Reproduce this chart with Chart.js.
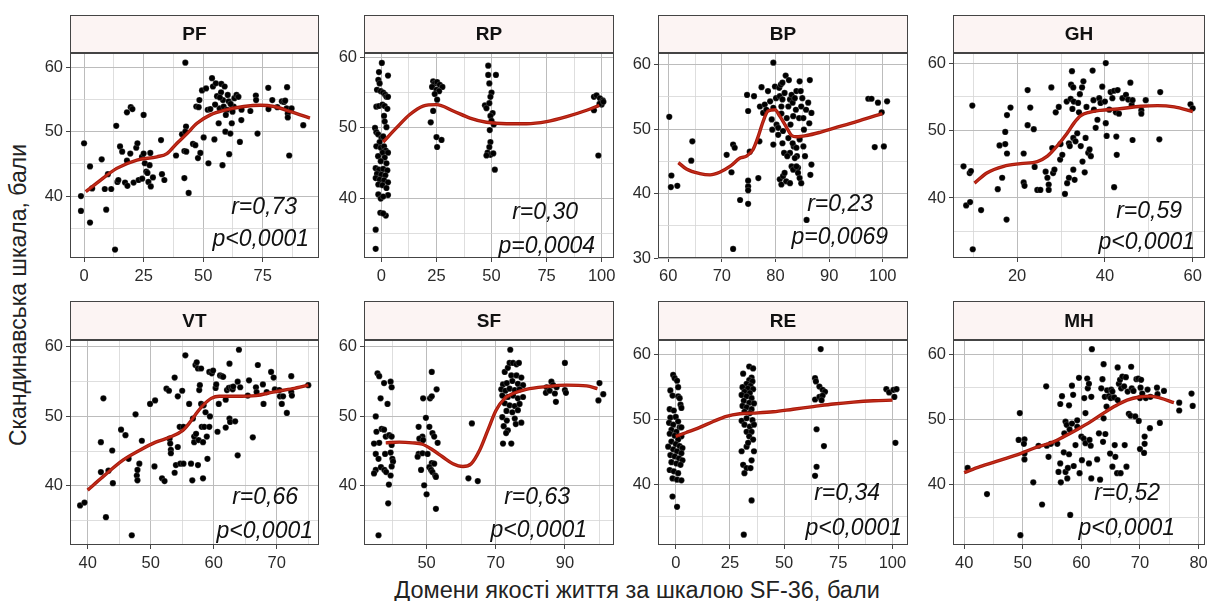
<!DOCTYPE html>
<html>
<head>
<meta charset="utf-8">
<script src="https://cdn.jsdelivr.net/npm/chart.js@4"></script>
<style>
body { margin: 0; background: #fff; width: 1208px; height: 601px; position: relative; overflow: hidden; font-family: 'Liberation Sans', Arial, sans-serif; }
canvas { position: absolute; }
#ytitle { position: absolute; left: 18px; top: 295px; transform: translate(-50%, -50%) rotate(-90deg); font-size: 23px; white-space: nowrap; color: #222; }
#xtitle { position: absolute; left: 637px; top: 590px; transform: translate(-50%, -50%); font-size: 23.5px; white-space: nowrap; color: #222; }
</style>
</head>
<body>
<div id="ytitle">Скандинавська шкала, бали</div>
<div id="xtitle">Домени якості життя за шкалою SF-36, бали</div>
<script>
// panels, in facet order
const panelNames = ['PF', 'RP', 'BP', 'GH', 'VT', 'SF', 'RE', 'MH'];
const rLabels = ['r=0,73', 'r=0,30', 'r=0,23', 'r=0,59', 'r=0,66', 'r=0,63', 'r=0,34', 'r=0,52'];
const pLabels = ['p<0,0001', 'p=0,0004', 'p=0,0069', 'p<0,0001', 'p<0,0001', 'p<0,0001', 'p<0,0001', 'p<0,0001'];

// major tick labels per panel
const xTicks = [[0, 25, 50, 75], [0, 25, 50, 75, 100], [60, 70, 80, 90, 100], [20, 40, 60],
                [40, 50, 60, 70], [50, 70, 90], [0, 25, 50, 75, 100], [40, 50, 60, 70, 80]];
const yTicks = [[40, 50, 60], [40, 50, 60], [30, 40, 50, 60], [40, 50, 60],
                [40, 50, 60], [40, 50, 60], [40, 50, 60], [40, 50, 60]];

// axis ranges [min, max]
const xRanges = [[-5.9, 98.6], [-7.9, 105.6], [58.1, 104.7], [5.4, 62.8], [37.2, 76.7], [31.9, 104.2], [-8.2, 107.2], [38.1, 81.1]];
const yRanges = [[30.4, 62.2], [31.6, 60.6], [30, 61.8], [31.1, 61.5], [31.5, 61.0], [31.5, 61.0], [30.6, 62.3], [30.8, 62.2]];

const pfPoints = [[-1.3,40.0],[-1.3,37.7],[0,48.2],[2.5,44.6],[2.5,35.9],[3.4,41.2],[7.4,45.7],[8.7,41.1],[9.3,37.9],[10,43.4],[11.4,41.1],[13.5,50.9],[13,31.7],[14,42.2],[14.4,42.5],[15.1,47.7],[16,46.9],[17.2,42.1],[18,53.0],[18,45.5],[18.2,41.6],[19.6,53.8],[20.3,53.5],[19.4,46.6],[20.8,42.1],[21.9,47.5],[22.4,48.2],[22.9,42.5],[24.3,46.1],[24.4,42.7],[25,52.6],[25,46.6],[25.5,45.1],[26.1,43.8],[26.6,43.6],[27,42.2],[27.5,44.8],[27.8,46.7],[28,41.5],[28.9,42.9],[32.3,48.7],[32.7,43.4],[33.7,42.5],[38.6,46.3],[41.1,49.6],[42.5,60.7],[42.1,47.0],[42.8,50.8],[42.5,50.0],[42.1,42.8],[42.9,46.9],[43.9,40.5],[45.7,48.1],[46.7,47.9],[47.1,53.9],[48.1,53.8],[47.8,45.9],[48.4,54.9],[48.8,46.7],[49.5,56.4],[50.2,49.1],[51.2,56.7],[51.9,53.4],[52.2,45.1],[53,53.5],[53.7,58.3],[54.1,57.0],[54.7,48.8],[55.3,57.5],[55.8,55.5],[56.5,51.3],[56.9,53.6],[57.5,56.1],[57.6,57.4],[58.1,44.8],[58.3,54.9],[58.6,53.9],[59,57.0],[59.3,50.0],[60,53.4],[60.3,55.7],[60.7,54.7],[60.9,46.5],[61.4,49.7],[62,51.3],[62.3,53.1],[62.8,53.9],[63.1,55.2],[64,55.7],[64.8,55.4],[65.4,48.4],[66,51.8],[66.1,53.4],[69.8,53.2],[72.1,55.6],[72.2,54.9],[72.8,49.7],[77.3,56.8],[77.4,53.5],[79,54.9],[81.1,53.8],[83,54.7],[83.9,54.6],[84.4,54.8],[85,53.6],[85.2,56.9],[85.5,52.8],[85.5,52.2],[86.1,46.3],[87.1,53.6],[92,51.0],[55,54.2],[57,55.3],[61.5,54.3],[59.5,52.6]];
const pfSmooth = [[0.7,40.7],[5.3,42],[13.7,44.3],[22.2,45.6],[30.6,46.1],[34.8,46.6],[39,48.2],[43.2,49.7],[47.4,51.3],[53,52.6],[58.6,53.3],[67,53.9],[74,54.1],[79.7,53.9],[86.7,53.1],[94.8,52.1]];

const rpPoints = [[-2.6,32.9],[-2.6,35.6],[0.2,59.2],[-1.1,57.9],[-1.4,56.8],[-0.8,56.3],[3,57.4],[-2,55.4],[-0.3,55.2],[0.8,55.0],[1.7,54.7],[2.3,54.4],[3,54.4],[-2.3,53.0],[-1.1,53.1],[0.5,53.3],[1.5,53.1],[2.7,52.7],[1.2,51.7],[1.5,50.9],[2.3,50.1],[-2.9,50.0],[-2.3,49.4],[-1.5,49.1],[0,48.6],[0.8,48.8],[-0.8,48.0],[-2.3,47.4],[-0.3,47.2],[1.2,47.4],[2,46.8],[0.5,46.5],[3,46.5],[-1.5,46.0],[1.5,45.8],[-0.3,45.3],[2.3,45.0],[-2.6,44.3],[-1.1,44.1],[0.8,44.2],[2.7,44.0],[-2,43.5],[0,43.4],[1.8,43.3],[-2.6,42.9],[-0.8,42.7],[1.2,42.6],[3,42.3],[-1.4,42.0],[0.5,41.9],[2.3,41.5],[3,40.5],[-1.4,40.6],[-0.3,40.0],[0.8,40.3],[-0.5,38.0],[2,37.6],[0.8,37.9],[23.5,56.6],[24.2,56.3],[25.3,56.5],[26.5,56.1],[27.7,55.8],[23,55.8],[25,55.4],[26.2,55.2],[24.2,54.8],[25.3,54.0],[23.5,52.4],[22.4,50.8],[25,48.7],[27.3,48.3],[25.3,47.3],[48.5,58.8],[48.5,57.5],[52,57.5],[49,56.3],[50,55.0],[49.5,54.4],[47,53.2],[47.7,52.8],[49,53.5],[50.5,52.1],[49.5,51.7],[51,50.5],[50,51.0],[49.2,49.7],[49.5,48.0],[49,47.3],[48.2,46.5],[49.5,46.2],[50.8,46.4],[51.5,44.1],[47.7,46.1],[96.5,54.4],[97.7,54.6],[99.2,54.2],[100.5,53.9],[100,53.3],[99,53.4],[96.5,52.5],[98.5,46.1],[100.8,53.7]];
const rpSmooth = [[0.8,48],[6.8,50],[12.9,51.9],[18.9,53.1],[25,53.3],[32.6,52.4],[40.2,51.4],[47.7,50.8],[56.8,50.6],[65.9,50.6],[75,50.9],[84.1,51.6],[93.2,52.5],[98.9,53.2]];

const bpPoints = [[60.2,51.9],[60.6,42.8],[60.5,41.0],[61.7,41.2],[64.5,48.1],[64.3,45.1],[70.9,46.0],[71.8,43.3],[72.1,47.6],[72.4,47.1],[72.1,31.4],[73.4,39.0],[74.7,55.3],[74.9,52.8],[74.9,42.0],[74.9,41.1],[74.9,40.5],[74.9,38.4],[75.2,46.5],[76,55.1],[77,48.1],[76.8,42.4],[77.4,56.5],[77.1,53.5],[77.7,52.5],[78,53.8],[78.3,53.0],[78.6,55.9],[79,54.3],[79.6,60.3],[79.3,51.5],[79.4,49.9],[79.6,53.3],[79.9,56.6],[80.1,54.8],[80.2,50.7],[80.5,50.2],[80.7,56.4],[80.8,55.1],[81,56.9],[81.1,52.4],[81.1,53.5],[81.3,57.2],[81.3,54.6],[81.4,49.7],[81.6,46.3],[81.7,55.6],[81.9,58.3],[82.1,51.7],[82.4,53.5],[82.5,57.6],[82.7,54.6],[82.8,50.7],[83,55.3],[83.2,54.1],[83.3,52.0],[83.4,47.3],[83.6,54.8],[83.8,53.0],[83.9,55.9],[84,45.8],[84.2,44.0],[84.4,51.7],[84.5,57.4],[84.7,55.9],[84.8,53.5],[85,54.8],[85.2,51.7],[85.3,49.9],[85.5,45.8],[85.7,53.0],[85.8,35.9],[86.1,54.1],[86.3,50.9],[86.4,57.6],[86.5,42.9],[86.7,44.5],[86.7,52.5],[79.6,47.6],[80.8,42.2],[81.1,41.4],[81.4,42.7],[81.7,43.2],[82,41.9],[82.7,41.6],[83,44.2],[83.3,43.7],[83.6,45.5],[83.9,44.2],[84.2,43.2],[84.5,42.4],[84.8,41.6],[82.7,46.3],[83.2,47.8],[83.9,47.1],[84.5,48.4],[85.2,47.3],[82.2,45.8],[81.3,47.8],[80.5,49.1],[82.4,48.6],[97.3,54.7],[97.9,54.7],[99.1,54.1],[99.8,52.6],[100.8,54.3],[98.5,47.2],[100.2,47.3]];
const bpSmooth = [[61.9,44.8],[63.4,43.8],[65.9,43.1],[67.8,42.9],[69.6,43.3],[71.5,44.2],[73.4,45.5],[74.6,45.8],[75.8,46.8],[76.8,48.9],[77.7,51.2],[78.6,52.8],[79.9,53.0],[80.8,52.0],[82.1,50.2],[83,49],[83.9,48.8],[85.8,49.0],[88.3,49.5],[92,50.4],[95.7,51.3],[99.9,52.4]];

const ghPoints = [[7.8,44.7],[9.2,43.7],[9.5,44.0],[8.4,38.9],[9.3,39.4],[9.8,53.7],[9.9,32.4],[11.8,38.2],[15.6,41.3],[16,47.8],[16.6,43.0],[17.3,49.8],[17.3,48.0],[17.7,52.3],[17.7,46.6],[17.6,36.8],[18.5,53.4],[21.5,46.6],[21.5,42.3],[21.7,41.8],[22.4,56.0],[22.4,50.8],[23,53.4],[23.8,50.2],[24,44.6],[24.6,41.2],[25.3,41.2],[26.5,43.9],[26.9,43.0],[27.2,42.0],[27.2,41.2],[27.8,56.4],[28,47.4],[28.2,43.7],[28.5,44.2],[28.8,52.7],[29.5,53.5],[29.8,45.7],[29.9,48.0],[30.3,46.4],[30.9,40.6],[31.3,54.3],[31.4,42.2],[31.8,43.0],[31.8,48.1],[32,47.7],[32.2,54.7],[32.3,56.8],[32.5,58.8],[32.6,53.2],[32.8,56.4],[32.8,48.9],[32.8,44.2],[32.9,54.3],[33.1,42.7],[33.3,48.4],[33.7,49.6],[33.9,54.1],[34.1,52.7],[34.3,55.4],[34.5,47.7],[34.8,56.4],[35.1,57.3],[34.9,45.4],[35.4,43.8],[35.6,48.9],[35.8,53.5],[36.2,46.7],[36.5,47.2],[36.8,46.2],[37.2,58.9],[37.4,54.5],[37.5,53.1],[37.9,50.4],[38.3,51.6],[38.7,54.8],[39,54.1],[39.4,56.5],[40,54.3],[40.2,60.0],[40.2,51.1],[40.4,49.2],[41,53.1],[41.3,55.7],[41.7,54.8],[42.1,55.9],[42.5,52.7],[42.6,49.1],[42.7,46.4],[42.9,56.0],[43.2,52.5],[42.1,41.6],[44,54.8],[44.8,55.3],[45.3,54.6],[45.8,57.1],[46.1,53.8],[46.3,48.6],[46.3,54.5],[48.3,53.0],[48.3,52.5],[49.3,54.5],[52.4,48.7],[52.6,55.7],[59.5,53.9],[60,53.3]];
const ghSmooth = [[10.3,42.2],[13.1,43.7],[16.95,44.7],[20.8,45.1],[24.6,45.4],[26.9,46.2],[29.1,47.7],[31.4,49.6],[32.95,51.1],[34.5,52.2],[36.4,52.7],[39,53],[42.9,53.2],[48.2,53.6],[52,53.7],[55.8,53.5],[60,52.8]];

const vtPoints = [[38.8,37.2],[39.5,37.6],[42.1,46.3],[42.1,42.0],[42.5,52.6],[42.9,35.5],[43.3,42.2],[43.9,45.1],[44,40.4],[45.3,48.1],[46,47.3],[46.5,43.9],[47,32.9],[47.6,50.3],[47.8,41.5],[47.9,42.3],[47.9,40.8],[48.2,43.2],[48.6,46.5],[49.9,51.8],[50.6,42.8],[50.7,52.3],[51.8,41.1],[52.2,40.7],[52.5,54.0],[52.9,53.7],[53,46.8],[53.1,46.1],[53.2,45.2],[53.2,44.7],[53.8,55.6],[53.8,41.9],[54,43.0],[54.3,52.9],[54.3,45.6],[54.6,48.5],[54.7,43.2],[55,53.7],[55.2,48.5],[55.2,43.2],[55.5,58.8],[56.1,51.8],[56.4,43.2],[56.6,40.8],[56.7,49.7],[56.9,46.3],[56.9,47.1],[57.1,57.4],[57.2,47.5],[57.3,57.8],[57.5,56.9],[57.5,43.0],[57.6,46.6],[57.7,53.8],[57.8,54.5],[58,51.8],[58,56.9],[58.1,48.5],[58.3,46.3],[58.3,41.1],[58.4,51.6],[58.5,48.5],[58.7,50.6],[58.9,47.1],[59,43.9],[59.3,48.5],[59.4,50.0],[59.3,56.4],[59.7,56.2],[59.9,56.6],[60.3,54.1],[60.4,54.6],[60.6,47.8],[60.8,51.8],[61,55.9],[61.3,55.8],[61.5,55.7],[61.9,52.4],[61.9,48.4],[62.1,53.8],[62.4,54.1],[62.5,57.6],[62.5,49.7],[62.6,49.2],[62.8,54.2],[63,53.9],[63.1,54.3],[63.4,49.3],[63.8,44.4],[64,59.6],[63.8,55.0],[64.2,54.2],[65.4,53.0],[65.6,55.2],[66.2,47.0],[66.7,54.2],[66.8,53.5],[67,57.4],[67.8,54.6],[67.9,51.8],[68.4,53.5],[69.1,56.4],[69.5,55.6],[69.7,53.9],[70.4,53.8],[70.5,52.9],[70.8,51.8],[71,52.9],[71.6,50.5],[72.3,55.8],[72.3,53.5],[72.4,53.0],[75,54.5]];
const vtSmooth = [[40,39.4],[42.4,41.3],[45.6,43.7],[48.2,45.1],[50.8,46.3],[53,47],[55.1,48],[56.1,49],[57.2,50.4],[58.3,51.6],[59.6,52.6],[60.9,52.9],[63.5,52.9],[66.7,53.0],[69.4,53.5],[72.5,54.0],[75,54.5]];

const sfPoints = [[36.1,32.9],[35.3,50.0],[35.8,56.2],[36.3,55.8],[36.7,52.6],[37.7,54.8],[39.6,55.0],[39.9,54.2],[38.7,51.8],[35.5,47.8],[37,48.2],[37.7,48.1],[36.3,46.2],[34.8,46.1],[38.2,47.1],[39.2,47.3],[39.9,47.1],[35.3,44.6],[38,44.6],[39.6,44.8],[40.1,43.9],[40.3,43.5],[36.1,43.9],[35.3,42.3],[34.8,41.8],[36.8,42.7],[37.8,42.3],[38.3,42.0],[39.9,42.8],[39.6,41.5],[39.1,40.2],[38.9,37.5],[39.9,45.9],[51.5,56.4],[49,52.6],[51,52.6],[51.5,52.9],[52.9,53.9],[49.8,49.8],[47.7,48.5],[50.8,48.5],[51.7,47.6],[52.2,47.1],[48.8,47.1],[47.9,46.8],[49,46.6],[53.2,46.2],[47.7,44.6],[48.8,44.7],[47.4,44.2],[50.3,44.6],[51.5,43.3],[52.2,43.2],[50.8,42.7],[51.3,42.3],[51.7,42.0],[48.4,42.3],[52.5,41.5],[52.7,41.3],[49.3,40.1],[50,38.8],[52.7,36.7],[63.1,49.0],[62.1,41.1],[64.8,40.7],[74.2,59.6],[72.6,56.4],[73.5,57.0],[74,57.7],[75,57.7],[76,57.5],[76.7,57.7],[74.5,55.9],[76,55.9],[77.4,55.6],[72.1,54.6],[73.2,54.8],[74.8,55.1],[76.4,54.7],[77.9,54.5],[71.6,53.9],[72.8,53.7],[74,54.0],[75.5,53.8],[76.9,53.9],[71.9,53.0],[73.5,52.8],[75,53.0],[76.4,52.6],[77.9,52.8],[72.6,51.9],[74,51.6],[75.5,51.5],[76.9,51.8],[73.1,50.8],[74.8,50.6],[76.4,50.9],[71.9,49.9],[73.2,49.4],[75.5,49.7],[72.3,48.6],[73.5,48.0],[75.8,48.9],[77.4,49.1],[73,47.6],[72.1,46.1],[74.5,46.1],[84.7,54.2],[86.1,55.0],[86.6,54.5],[87.6,54.2],[84.5,53.4],[85.6,53.7],[87.1,53.3],[87.4,52.1],[90,53.8],[90.3,53.4],[90,57.7],[100,54.8],[101.1,53.2],[99.7,52.3]];
const sfSmooth = [[38.2,46.2],[42.1,46.3],[45.9,46.2],[48.8,46.0],[51.7,45.2],[54.6,44.2],[57.6,43.2],[60.5,42.8],[62.9,43.2],[65.3,45.1],[67.7,48.0],[70.1,50.9],[72.6,52.6],[75,53.3],[78.8,53.9],[84.7,54.3],[90.5,54.5],[96.3,54.4],[99.4,54.0]];

const rePoints = [[-1.2,56.9],[-0.5,56.4],[0.6,56.0],[1.1,55.0],[-2.5,54.5],[-1.5,53.7],[1.1,53.6],[1.8,53.3],[2.2,52.3],[2.6,51.8],[-2.8,51.6],[-0.9,51.4],[-2.5,50.3],[0,50.4],[1.1,49.7],[-3.1,49.5],[-1.2,49.2],[1.8,48.8],[-2,48.4],[0.3,48.1],[-2.8,47.8],[-0.5,47.5],[2.6,47.4],[1.1,46.9],[-2,46.6],[0,46.2],[1.8,45.9],[3.1,45.6],[-1.2,45.4],[0.6,45.1],[2.6,44.8],[-2.5,44.5],[-0.5,44.3],[1.5,44.0],[3.1,43.7],[-2,43.4],[0.3,43.2],[2.2,43.0],[-2.8,42.2],[-0.9,42.0],[1.1,41.7],[-1.5,40.9],[0.6,40.7],[2.6,40.6],[-1.5,38.1],[0.6,36.5],[2.6,48.8],[-3.5,45.8],[33.9,58.2],[35.7,57.9],[31.1,57.1],[35,56.5],[33.9,56.1],[35.4,55.9],[32.7,55.5],[34.5,55.2],[30.8,55.0],[33.3,54.8],[35.7,54.7],[31.7,54.3],[34.2,54.1],[30.4,53.8],[32.7,53.6],[35,53.3],[31.4,52.9],[33.9,52.6],[36.1,52.5],[30.8,52.1],[32.7,51.9],[35,51.6],[31.7,51.2],[34.2,51.0],[30.4,49.8],[32.7,50.2],[35.4,49.9],[31.7,49.2],[34.2,48.9],[36.1,49.2],[32.7,48.1],[35,48.1],[33.9,47.4],[35.7,46.9],[32.7,45.8],[30.4,45.1],[36.1,45.1],[35,43.7],[31.1,43.0],[32.7,42.5],[34.5,42.5],[31.7,41.7],[35,37.5],[31.4,32.2],[33.4,46.4],[66.9,60.9],[64.3,56.4],[64.7,55.9],[66.3,55.1],[67.8,54.6],[68.9,54.3],[64.3,53.1],[66.3,53.5],[67.8,53.7],[67.3,53.0],[65,48.5],[68.4,45.9],[65,42.7],[64.3,41.3],[97.2,54.7],[98.5,54.2],[100.5,54.6],[101.9,54.7],[100.9,53.5],[101.4,46.4]];
const reSmooth = [[0,47.4],[4.9,48.0],[11.1,48.8],[17.3,49.7],[23.4,50.5],[29.6,50.9],[35.7,51.0],[45,51.2],[54.2,51.6],[63.5,52.0],[72.7,52.4],[82,52.7],[91.2,52.9],[100,53.0]];

const mhPoints = [[40.6,42.6],[43.9,38.6],[49.5,51.0],[49.3,46.9],[50.3,47.0],[50.2,46.3],[50.3,44.8],[50.3,43.9],[49.6,32.3],[51.8,40.4],[53.3,37.0],[54,55.1],[54.1,46.0],[54.4,44.3],[54.8,46.3],[55.9,46.3],[56.1,42.0],[56.4,52.4],[56.4,43.3],[56.5,40.4],[56.7,53.6],[57,45.0],[57.1,47.9],[57.3,42.0],[57.3,49.7],[57.5,49.2],[57.6,41.0],[57.7,42.6],[57.9,44.7],[57.9,52.2],[58,48.5],[58.1,35.4],[58.4,55.2],[58.4,49.4],[58.6,53.8],[58.7,42.9],[59,46.1],[59.3,48.9],[59.3,49.9],[59.6,56.4],[59.7,41.8],[60,47.4],[60.1,43.8],[60.4,47.1],[60.5,53.3],[60.7,51.0],[60.7,46.4],[61,56.3],[61.1,54.8],[61.3,55.5],[61.3,43.3],[61.4,46.9],[61.6,46.0],[61.7,53.5],[61.8,60.8],[61.7,41.0],[62.7,43.9],[63,47.9],[63.2,40.8],[63.4,54.8],[63.6,56.2],[63.7,46.6],[63.8,50.2],[63.8,58.5],[64,53.5],[64.1,47.8],[64.3,52.0],[64.4,54.5],[64.7,53.6],[64.9,44.8],[65,53.3],[65.1,54.6],[65.3,54.3],[65.3,42.8],[65.6,53.4],[65.7,46.1],[65.8,44.3],[66.1,41.8],[66.2,58.0],[66.2,53.0],[66.4,55.5],[66.6,56.1],[66.7,41.8],[66.8,54.8],[67,56.6],[67.3,55.1],[67.4,46.1],[67.6,56.5],[67.7,42.8],[67.9,54.3],[68.1,50.9],[68.4,50.6],[68.5,58.1],[68.6,54.8],[68.9,54.4],[69.2,50.5],[69.4,56.2],[69.7,56.3],[69.8,49.8],[70,53.3],[70,45.5],[70.1,54.9],[70.2,56.1],[70.4,54.0],[70.7,44.9],[70.8,46.3],[70.8,47.4],[71,53.3],[71.3,54.6],[71.7,48.7],[71.8,53.5],[72.9,54.9],[73,53.9],[73.4,49.5],[74.1,54.4],[76.7,52.6],[76.7,51.4],[78.8,54.0],[79,52.1],[52.7,46.0]];
const mhSmooth = [[40,41.9],[42.7,42.8],[46.2,43.8],[49.6,44.8],[52.4,45.8],[54.7,46.4],[57,47.4],[59.3,48.5],[61.6,49.7],[63.8,51.0],[65.6,52.0],[67.8,53.0],[70.1,53.5],[71.8,53.6],[73.5,53.3],[75.8,52.6]];

const allPoints = [pfPoints, rpPoints, bpPoints, ghPoints, vtPoints, sfPoints, rePoints, mhPoints];
const allSmooth = [pfSmooth, rpSmooth, bpSmooth, ghSmooth, vtSmooth, sfSmooth, reSmooth, mhSmooth];

// layout of the facet grid
const colLeft = [70, 364, 658, 953];
const colRight = [319, 614, 908, 1205];
const rowStrip = [15, 301];
const rowPlotTop = [53, 340];
const rowPlotBottom = [258, 545];
const Y_AXIS_W = 38;
const X_AXIS_H = 30;
const EXTRA_R = 16;
// r / p label offsets from bottom-right corner of the plot
const rOffset = [[22, 50], [36, 45], [35, 53], [23, 46], [21, 47], [44, 47], [28, 51], [45, 51]];
const pOffset = [[10, 18], [19, 11], [20, 20], [10, 15], [6, 13], [27, 14], [6, 16], [30, 16]];

const FONT = "'Liberation Sans', Arial, sans-serif";

function minorTicks(major, lo, hi) {
    const step = major[1] - major[0];
    const out = [];
    for (let v = major[0] - step / 2; v <= hi; v += step) {
        if (v >= lo) out.push(v);
    }
    return out;
}

function makeAxis(major, range, isX) {
    const all = major.concat(minorTicks(major, range[0], range[1])).sort((a, b) => a - b);
    const isMajor = v => major.includes(v);
    return {
        type: 'linear',
        min: range[0],
        max: range[1],
        afterBuildTicks: s => { s.ticks = all.map(v => ({ value: v })); },
        afterFit: s => { if (isX) s.height = X_AXIS_H; else s.width = Y_AXIS_W; },
        border: { display: false },
        grid: {
            color: c => isMajor(c.tick.value) ? '#bcbcbc' : '#d6d6d6',
            lineWidth: c => isMajor(c.tick.value) ? 1 : 0.8,
            tickColor: c => isMajor(c.tick.value) ? '#444' : 'rgba(0,0,0,0)',
            tickWidth: 1,
            tickLength: 4
        },
        ticks: {
            autoSkip: false,
            maxRotation: 0,
            padding: isX ? 5 : 3,
            color: '#2b2b2b',
            font: { family: FONT, size: 16.5 },
            callback: v => isMajor(v) ? String(v) : ''
        }
    };
}

const facetPlugin = {
    id: 'facet',
    beforeDraw(chart, args, opts) {
        const { ctx, chartArea: a } = chart;
        ctx.save();
        const h = a.top - 1;
        ctx.fillStyle = '#fcf4f3';
        ctx.fillRect(a.left, 0.5, a.right - a.left, h);
        ctx.strokeStyle = '#444';
        ctx.lineWidth = 1;
        ctx.strokeRect(a.left + 0.5, 0.5, a.right - a.left - 1, h);
        ctx.fillStyle = '#111';
        ctx.font = 'bold 19px ' + FONT;
        ctx.textAlign = 'center';
        ctx.textBaseline = 'middle';
        ctx.fillText(opts.name, (a.left + a.right) / 2, h / 2 + 1.5);
        ctx.restore();
    },
    afterDraw(chart, args, opts) {
        const { ctx, chartArea: a } = chart;
        ctx.save();
        ctx.strokeStyle = '#444';
        ctx.lineWidth = 1;
        ctx.strokeRect(a.left + 0.5, a.top + 0.5, a.right - a.left - 1, a.bottom - a.top - 1);
        ctx.font = 'italic 23px ' + FONT;
        ctx.fillStyle = '#111';
        ctx.textAlign = 'right';
        ctx.textBaseline = 'middle';
        ctx.fillText(opts.r, a.right - opts.rPos[0], a.bottom - opts.rPos[1]);
        ctx.fillText(opts.p, a.right - opts.pPos[0], a.bottom - opts.pPos[1]);
        ctx.restore();
    }
};

panelNames.forEach((name, i) => {
    const row = Math.floor(i / 4);
    const col = i % 4;
    const plotW = colRight[col] - colLeft[col];
    const stripH = rowPlotTop[row] - rowStrip[row];
    const plotH = rowPlotBottom[row] - rowPlotTop[row];

    const canvas = document.createElement('canvas');
    canvas.width = Y_AXIS_W + plotW + EXTRA_R;
    canvas.height = stripH + plotH + X_AXIS_H;
    canvas.style.left = (colLeft[col] - Y_AXIS_W) + 'px';
    canvas.style.top = rowStrip[row] + 'px';
    document.body.appendChild(canvas);

    const smooth = allSmooth[i].map(([x, y]) => ({ x, y }));
    new Chart(canvas.getContext('2d'), {
        type: 'scatter',
        data: {
            datasets: [{
                type: 'line',
                data: smooth,
                borderColor: 'rgba(222, 70, 40, 0.55)',
                borderWidth: 1.2,
                pointRadius: 0,
                cubicInterpolationMode: 'monotone',
                order: -1
            }, {
                type: 'line',
                data: smooth,
                borderColor: '#a8180c',
                borderWidth: 3.4,
                pointRadius: 0,
                cubicInterpolationMode: 'monotone',
                order: 0
            }, {
                type: 'scatter',
                data: allPoints[i].map(([x, y]) => ({ x, y })),
                pointRadius: 3.1,
                pointBackgroundColor: '#000',
                pointBorderColor: 'rgba(255,255,255,0.35)',
                pointBorderWidth: 0.5,
                order: 1
            }]
        },
        options: {
            responsive: false,
            animation: false,
            devicePixelRatio: 1,
            layout: { padding: { top: stripH, right: EXTRA_R, left: 0, bottom: 0 } },
            scales: {
                x: makeAxis(xTicks[i], xRanges[i], true),
                y: makeAxis(yTicks[i], yRanges[i], false)
            },
            plugins: {
                legend: { display: false },
                tooltip: { enabled: false },
                facet: { name, r: rLabels[i], p: pLabels[i], rPos: rOffset[i], pPos: pOffset[i] }
            }
        },
        plugins: [facetPlugin]
    });
});
</script>
</body>
</html>
